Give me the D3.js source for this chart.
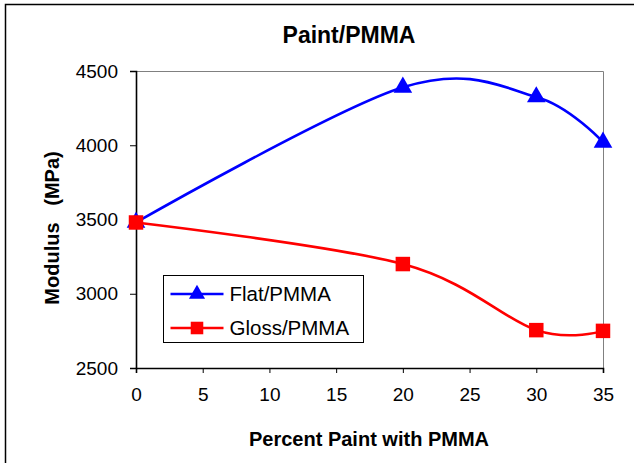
<!DOCTYPE html>
<html>
<head>
<meta charset="utf-8">
<script src="https://cdn.jsdelivr.net/npm/d3@7"></script>
<style>
  body { margin: 0; background: #fff; }
  text { font-family: "Liberation Sans", Arial, sans-serif; fill: #000; }
</style>
</head>
<body>
<div id="chart"></div>
<script>
// data
const percent = [0, 20, 30, 35];
const flatPMMA = [3480, 4390, 4325, 4020];
const glossPMMA = [3480, 3200, 2755, 2750];
const xTicks = [0, 5, 10, 15, 20, 25, 30, 35];
const yTicks = [2500, 3000, 3500, 4000, 4500];
const seriesNames = ["Flat/PMMA", "Gloss/PMMA"];

const width = 634, height = 463;
const plot = { left: 136, top: 71, right: 603, bottom: 368 };

const svg = d3.select("#chart").append("svg")
  .attr("width", width)
  .attr("height", height);

// outer frame (right and bottom fall off the picture)
svg.append("rect")
  .attr("x", 5.5).attr("y", 4.5)
  .attr("width", width + 10).attr("height", height + 10)
  .attr("fill", "none").attr("stroke", "#000").attr("stroke-width", 1.5);

const x = d3.scaleLinear().domain([0, 35]).range([plot.left, plot.right]);
const y = d3.scaleLinear().domain([2500, 4500]).range([plot.bottom, plot.top]);

// gray top/right frame of plot area
svg.append("path")
  .attr("d", `M${plot.left},${plot.top + 0.5}H${plot.right + 0.5}V${plot.bottom}`)
  .attr("fill", "none").attr("stroke", "#808080").attr("stroke-width", 1);

const yAxis = svg.append("g")
  .attr("transform", `translate(${plot.left},0)`)
  .call(d3.axisLeft(y).tickValues(yTicks).tickSize(6).tickPadding(12).tickFormat(d3.format("d")));
const xAxis = svg.append("g")
  .attr("transform", `translate(0,${plot.bottom})`)
  .call(d3.axisBottom(x).tickValues(xTicks).tickSize(5).tickPadding(15));

[yAxis, xAxis].forEach(g => {
  g.select(".domain").attr("stroke-width", 1.6);
  g.selectAll(".tick line").attr("stroke-width", 1);
  g.selectAll("text").attr("font-size", 19).attr("font-family", "Liberation Sans, Arial, sans-serif").attr("fill", "#000");
});

// titles
svg.append("text")
  .attr("x", 349).attr("y", 43)
  .attr("text-anchor", "middle")
  .attr("font-size", 23).attr("font-weight", "bold")
  .text("Paint/PMMA");

svg.append("text")
  .attr("x", 369).attr("y", 446)
  .attr("text-anchor", "middle")
  .attr("font-size", 20).attr("font-weight", "bold")
  .text("Percent Paint with PMMA");

svg.append("text")
  .attr("transform", "translate(59,228) rotate(-90)")
  .attr("text-anchor", "middle")
  .attr("font-size", 20).attr("font-weight", "bold")
  .attr("xml:space", "preserve")
  .text("Modulus   (MPa)");

// series
const series = [
  { name: seriesNames[0], values: flatPMMA, color: "#0000ff", symbol: d3.symbolTriangle, size: 150 },
  { name: seriesNames[1], values: glossPMMA, color: "#ff0000", symbol: d3.symbolSquare, size: 210 }
];

const line = d3.line()
  .x(d => x(d[0]))
  .y(d => y(d[1]))
  .curve(d3.curveCardinal.tension(0));

series.forEach(s => {
  const pts = percent.map((p, i) => [p, s.values[i]]);
  svg.append("path")
    .datum(pts)
    .attr("d", line)
    .attr("fill", "none")
    .attr("stroke", s.color)
    .attr("stroke-width", 2.6);

  svg.selectAll(null)
    .data(pts)
    .join("path")
    .attr("transform", d => `translate(${x(d[0])},${y(d[1])})`)
    .attr("d", d3.symbol().type(s.symbol).size(s.size))
    .attr("fill", s.color);
});

// legend
const legend = svg.append("g").attr("transform", "translate(163.5,275.5)");
legend.append("rect")
  .attr("width", 200).attr("height", 67)
  .attr("fill", "#fff").attr("stroke", "#000").attr("stroke-width", 1);

series.forEach((s, i) => {
  const row = legend.append("g").attr("transform", `translate(0,${18.5 + i * 34})`);
  row.append("line")
    .attr("x1", 7).attr("x2", 60)
    .attr("stroke", s.color).attr("stroke-width", 2.6);
  row.append("path")
    .attr("transform", "translate(33.5,0)")
    .attr("d", d3.symbol().type(s.symbol).size(s.size * 0.75))
    .attr("fill", s.color);
  row.append("text")
    .attr("x", 66).attr("dy", "0.36em")
    .attr("font-size", 20.5)
    .text(s.name);
});
</script>
</body>
</html>
